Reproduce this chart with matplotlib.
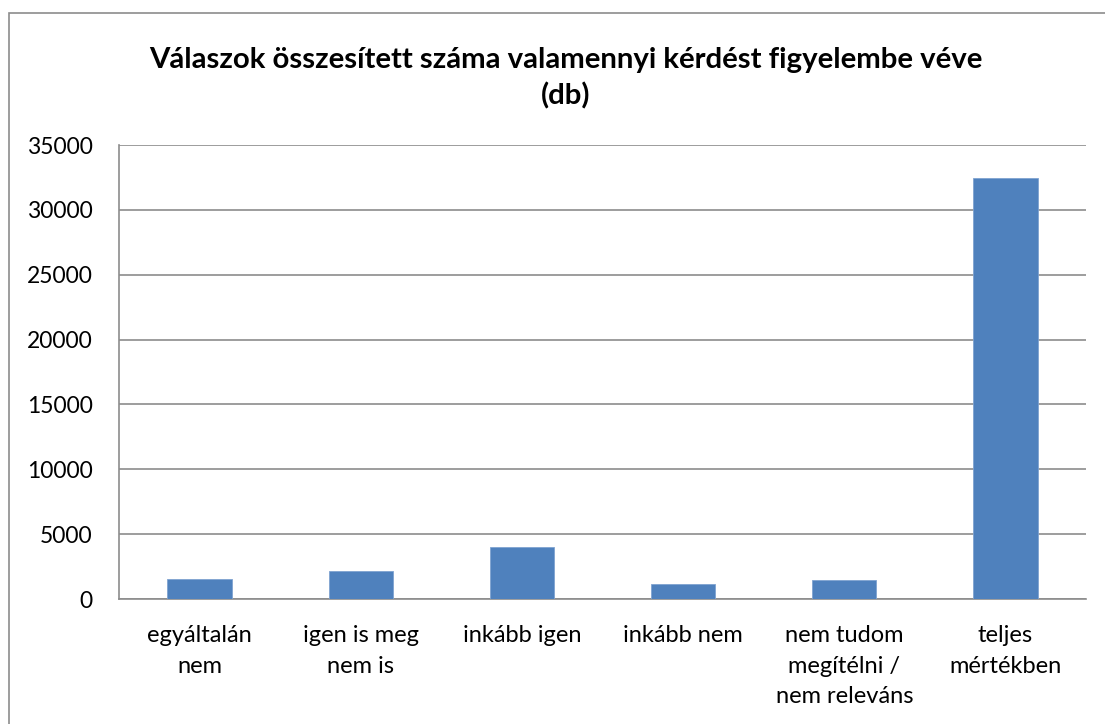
import matplotlib
matplotlib.use("Agg")
import matplotlib.pyplot as plt
from matplotlib.patches import Rectangle

categories = ["egyáltalán\nnem", "igen is meg\nnem is", "inkább igen", "inkább nem",
              "nem tudom\nmegítélni /\nnem releváns", "teljes\nmértékben"]
values = [1545, 2190, 4040, 1160, 1470, 32450]
yticks = [0, 5000, 10000, 15000, 20000, 25000, 30000, 35000]
title = "Válaszok összesített száma valamennyi kérdést figyelembe véve\n(db)"

plt.rcParams['font.family'] = ['Lato', 'DejaVu Sans']

fig = plt.figure(figsize=(11.05, 7.24), dpi=100)
fig.patches.append(Rectangle((9/1105, -0.01), 1.1, 1 - 12.5/724 + 0.01,
                             transform=fig.transFigure, fill=False,
                             edgecolor='#8c8c8c', linewidth=1.2))
ax = fig.add_axes([119/1105, 1 - 599/724, (1086 - 119)/1105, (599 - 145)/724])

x = range(len(categories))
ax.bar(x, values, width=0.4, color='#4f81bd', edgecolor='#7fa3d1', linewidth=0.6, zorder=3)
ax.set_xlim(-0.5, len(categories) - 0.5)
ax.set_ylim(0, 35000)
ax.set_yticks(yticks)
ax.set_yticklabels([str(v) for v in yticks], fontsize=16.5)
ax.set_xticks(list(x))
ax.set_xticklabels(categories, fontsize=17, linespacing=1.55, va='top')
ax.tick_params(axis='x', length=0, pad=19)
ax.tick_params(axis='y', length=0, pad=19)
ax.grid(axis='y', color='#8c8c8c', linewidth=1.2, zorder=0)
for s in ['top', 'right']:
    ax.spines[s].set_visible(False)
for s in ['left', 'bottom']:
    ax.spines[s].set_color('#8c8c8c')
    ax.spines[s].set_linewidth(1.2)

fig.text(566/1105, 1 - 78/724, title, ha='center', va='center', fontsize=21.2,
         fontweight='bold', linespacing=1.4)

fig.savefig("out.png", dpi=100)
